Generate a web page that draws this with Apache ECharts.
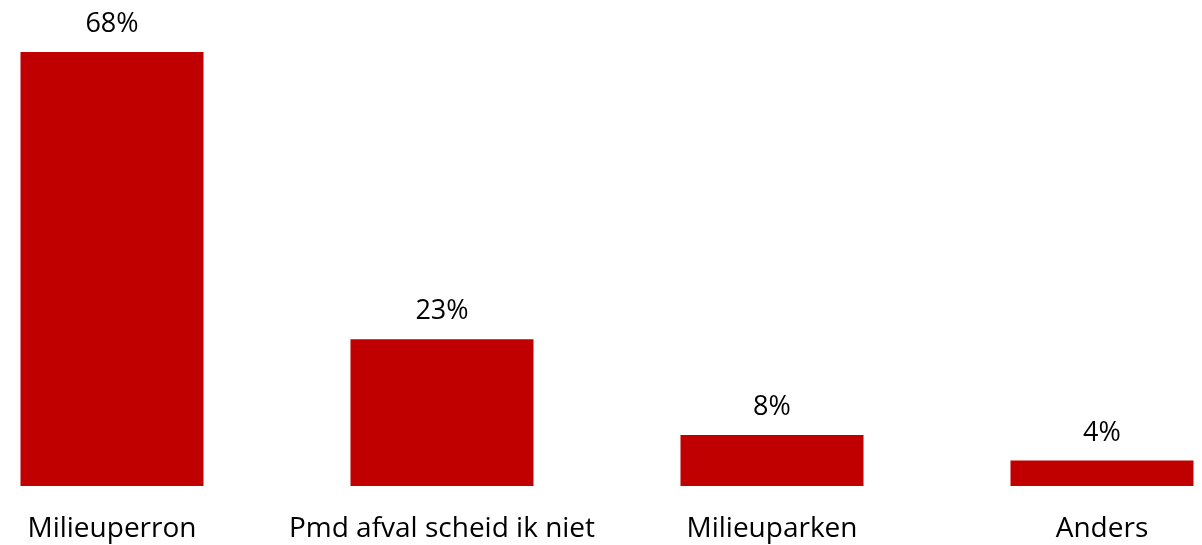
<!DOCTYPE html>
<html>
<head>
<meta charset="utf-8">
<script src="https://cdn.jsdelivr.net/npm/echarts@6/dist/echarts.min.js"></script>
<style>
  html, body { margin: 0; padding: 0; background: #fff; overflow: hidden; }
  /* plot area runs past the window edges, like the original */
  #chart_1 { width: 1320px; height: 545px; margin-left: -53.5px; }
</style>
</head>
<body>
<div id="chart_1"></div>
<script>
var categories = ['Milieuperron', 'Pmd afval scheid ik niet', 'Milieuparken', 'Anders'];
var values = [68, 23, 8, 4];

var myChart = echarts.init(document.getElementById('chart_1'));

var option = {
    animation: false,
    textStyle: {
        fontFamily: '"Open Sans", sans-serif'
    },
    grid: {
        left: 0,
        right: 0,
        top: 52,
        bottom: 59
    },
    xAxis: {
        type: 'category',
        data: categories,
        axisLine: { show: false },
        axisTick: { show: false },
        axisLabel: {
            color: '#000',
            fontSize: 28,
            margin: 29,
            interval: 0
        }
    },
    yAxis: {
        type: 'value',
        min: 0,
        max: 68,
        show: false,
        splitLine: { show: false }
    },
    series: [
        {
            type: 'bar',
            data: values,
            barWidth: 183,
            itemStyle: { color: '#c00000' },
            label: {
                show: true,
                position: 'top',
                distance: 14,
                color: '#000',
                fontSize: 27,
                formatter: '{c}%'
            }
        }
    ]
};

myChart.setOption(option);
window.addEventListener('resize', function () {
    myChart.resize();
});
</script>
</body>
</html>
